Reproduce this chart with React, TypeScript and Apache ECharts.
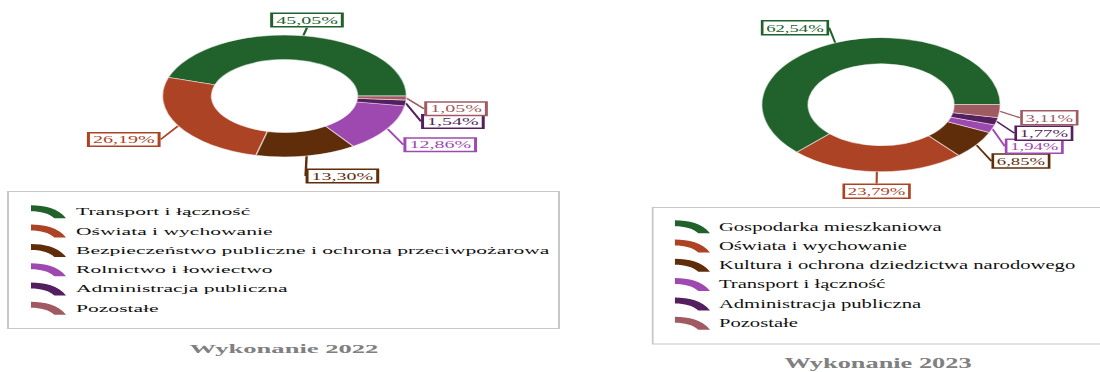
import React, { useEffect, useRef } from "react";
import * as echarts from "echarts";

const FONT = "'Liberation Serif', 'Times New Roman', Times, serif";

// ---- data: Wykonanie 2022 ----
const categories2022 = [
  "Transport i łączność",
  "Oświata i wychowanie",
  "Bezpieczeństwo publiczne i ochrona przeciwpożarowa",
  "Rolnictwo i łowiectwo",
  "Administracja publiczna",
  "Pozostałe",
];
const values2022 = [45.05, 26.19, 13.3, 12.86, 1.54, 1.05];
const colors2022 = ["#21612b", "#ad4325", "#5f2d0a", "#9e49b0", "#541f5e", "#a05a62"];

// ---- data: Wykonanie 2023 ----
const categories2023 = [
  "Gospodarka mieszkaniowa",
  "Oświata i wychowanie",
  "Kultura i ochrona dziedzictwa narodowego",
  "Transport i łączność",
  "Administracja publiczna",
  "Pozostałe",
];
const values2023 = [62.54, 23.79, 6.85, 1.94, 1.77, 3.11];
const colors2023 = ["#21612b", "#ad4325", "#5f2d0a", "#9e49b0", "#541f5e", "#a05a62"];

const titles = ["Wykonanie 2022", "Wykonanie 2023"];

// label nudges (page px): label centre relative to the slice's outer mid-point
const labelOffsets2022 = [[3.6, -15.7], [-54.4, 13.6], [35.8, 20.1], [52.8, 15.9], [47.2, 18.6], [49.6, 10.8]];
const labelOffsets2023 = [[-40.3, -15.1], [-0.2, 19.6], [44.5, 16.2], [41.9, 17.4], [47.3, 11.8], [49.6, 6.6]];

const ICON = "path://M0,0 C7,0 14,3 18,13 L12,13 C9,8 5,6 0,6 Z";

const fmt = (v: number) => v.toFixed(2).replace(".", ",") + "%";

type PanelCfg = {
  pageLeft: number;
  pageWidth: number;
  sx: number;
  center: [number, number];
  radius: [number, number];
  labelFont: number;
  legendFont: number;
  legendLeft: number;
  legendTop: number;
  iconW: number;
  box: { x: number; y: number; w: number; h: number };
  title: { text: string; x: number; y: number; size: number };
  categories: string[];
  values: number[];
  colors: string[];
  offsets: number[][];
};

const panels: PanelCfg[] = [
  {
    pageLeft: 0,
    pageWidth: 600,
    sx: 2.0,
    center: [142.25, 96],
    radius: [36.5, 61],
    labelFont: 10,
    legendFont: 10.8,
    legendLeft: 15.5,
    legendTop: 205.3,
    iconW: 17.5,
    box: { x: 4, y: 191.5, w: 275.5, h: 137 },
    title: { text: titles[0], x: 142, y: 348.6, size: 13.3 },
    categories: categories2022,
    values: values2022,
    colors: colors2022,
    offsets: labelOffsets2022,
  },
  {
    pageLeft: 600,
    pageWidth: 500,
    sx: 1.78,
    center: [157.9, 104.7],
    radius: [41, 67],
    labelFont: 10.5,
    legendFont: 11.6,
    legendLeft: 42.1,
    legendTop: 220.2,
    iconW: 19.7,
    box: { x: 29.6, y: 207.5, w: 280, h: 136.5 },
    title: { text: titles[1], x: 156.2, y: 363.3, size: 14.8 },
    categories: categories2023,
    values: values2023,
    colors: colors2023,
    offsets: labelOffsets2023,
  },
];

function buildOption(p: PanelCfg) {
  const data = p.categories.map((name, i) => ({
    name,
    value: p.values[i],
    itemStyle: { color: p.colors[i] },
    label: { color: p.colors[i], borderColor: p.colors[i] },
    labelLine: { lineStyle: { color: p.colors[i] } },
  }));
  return {
    animation: false,
    legend: {
      orient: "vertical",
      left: p.legendLeft,
      top: p.legendTop,
      padding: 0,
      itemGap: 6.3,
      itemWidth: p.iconW,
      itemHeight: 13,
      icon: ICON,
      symbolKeepAspect: false,
      selectedMode: false,
      itemStyle: { borderWidth: 0 },
      textStyle: { fontFamily: FONT, fontSize: p.legendFont, color: "#111" },
      data: p.categories,
    },
    graphic: [
      {
        type: "rect",
        silent: true,
        z: -1,
        shape: { x: p.box.x, y: p.box.y, width: p.box.w, height: p.box.h },
        style: { fill: "none", stroke: "#c8c8c8", lineWidth: 1 },
      },
      {
        type: "text",
        silent: true,
        x: p.title.x,
        y: p.title.y,
        style: {
          text: p.title.text,
          fill: "#808080",
          fontFamily: FONT,
          fontSize: p.title.size,
          fontWeight: "bold",
          align: "center",
          verticalAlign: "middle",
        },
      },
    ],
    series: [
      {
        type: "pie",
        center: p.center,
        radius: p.radius,
        startAngle: 0,
        clockwise: false,
        avoidLabelOverlap: false,
        emphasis: { disabled: true },
        itemStyle: { borderColor: "rgba(255,255,255,0.55)", borderWidth: 0.8 },
        label: {
          show: true,
          position: "outside",
          formatter: (q: any) => fmt(q.value),
          fontFamily: FONT,
          fontSize: p.labelFont,
          lineHeight: p.labelFont,
          backgroundColor: "#fff",
          borderWidth: 1.5,
          padding: [1, 1.5],
        },
        labelLine: { show: true, length: 5, length2: 0, lineStyle: { width: 1.2 } },
        labelLayout: (lp: any) => {
          const pts = lp.labelLinePoints;
          const off = p.offsets[lp.dataIndex];
          if (!pts || !off) return {};
          return {
            x: pts[0][0] + off[0] / p.sx,
            y: pts[0][1] + off[1],
            align: "center",
            verticalAlign: "middle",
          };
        },
        data,
      },
    ],
  };
}

function Panel({ cfg }: { cfg: PanelCfg }) {
  const ref = useRef<HTMLDivElement>(null);
  useEffect(() => {
    if (!ref.current) return;
    const chart = echarts.init(ref.current, null, { renderer: "svg" });
    chart.setOption(buildOption(cfg) as any);
    return () => chart.dispose();
  }, [cfg]);
  return (
    <div
      style={{
        position: "absolute",
        left: cfg.pageLeft,
        top: 0,
        width: cfg.pageWidth,
        height: 372,
        overflow: "hidden",
      }}
    >
      <div
        ref={ref}
        style={{
          width: cfg.pageWidth / cfg.sx,
          height: 372,
          transform: `scaleX(${cfg.sx})`,
          transformOrigin: "0 0",
        }}
      />
    </div>
  );
}

export default function App() {
  return (
    <div
      style={{
        position: "absolute",
        left: 0,
        top: 0,
        width: 1100,
        height: 372,
        background: "#fff",
        overflow: "hidden",
      }}
    >
      {panels.map((p, i) => (
        <Panel key={i} cfg={p} />
      ))}
    </div>
  );
}
